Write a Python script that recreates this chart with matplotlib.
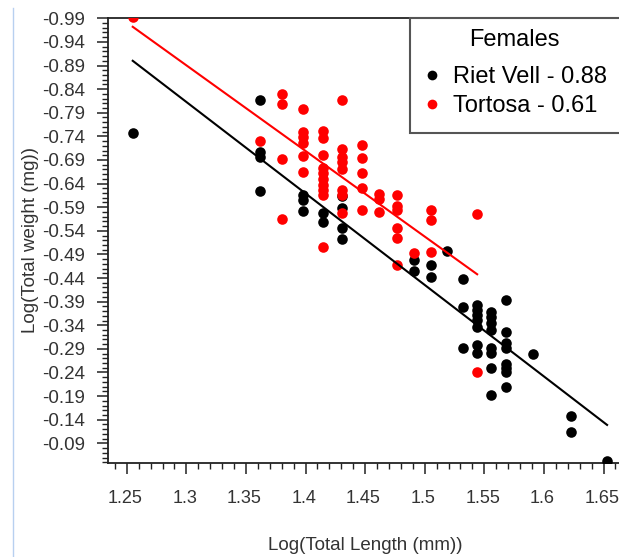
import matplotlib
matplotlib.use("Agg")
import matplotlib.pyplot as plt
import matplotlib.transforms as mtransforms
from matplotlib.ticker import MultipleLocator, FixedLocator, FixedFormatter
from matplotlib.lines import Line2D
from matplotlib.patches import Rectangle

plt.rcParams['font.family'] = ['Liberation Sans', 'DejaVu Sans']

# ---- data (log total length, log total weight) ----
riet_x = [1.255,
          1.362, 1.362, 1.362, 1.362,
          1.398, 1.398, 1.398,
          1.415, 1.415,
          1.431, 1.431, 1.431, 1.431,
          1.491, 1.491,
          1.505, 1.505,
          1.519,
          1.532, 1.532, 1.532,
          1.544, 1.544, 1.544, 1.544, 1.544, 1.544, 1.544,
          1.556, 1.556, 1.556, 1.556, 1.556, 1.556, 1.556, 1.556,
          1.568, 1.568, 1.568, 1.568, 1.568, 1.568, 1.568, 1.568,
          1.591,
          1.623, 1.623,
          1.653]
riet_y = [-0.748,
          -0.818, -0.707, -0.697, -0.625,
          -0.615, -0.605, -0.583,
          -0.577, -0.559,
          -0.614, -0.588, -0.545, -0.523,
          -0.478, -0.455,
          -0.468, -0.443,
          -0.497,
          -0.437, -0.378, -0.291,
          -0.383, -0.372, -0.362, -0.351, -0.337, -0.298, -0.281,
          -0.369, -0.357, -0.344, -0.331, -0.291, -0.282, -0.249, -0.192,
          -0.393, -0.326, -0.302, -0.291, -0.259, -0.249, -0.240, -0.210,
          -0.279,
          -0.148, -0.115,
          -0.052]

tortosa_x = [1.255,
             1.362,
             1.380, 1.380, 1.380, 1.380,
             1.398, 1.398, 1.398, 1.398, 1.398, 1.398,
             1.415, 1.415, 1.415, 1.415, 1.415, 1.415, 1.415, 1.415, 1.415, 1.415,
             1.431, 1.431, 1.431, 1.431, 1.431, 1.431, 1.431, 1.431,
             1.447, 1.447, 1.447, 1.447, 1.447,
             1.462, 1.462, 1.462,
             1.477, 1.477, 1.477, 1.477, 1.477, 1.477,
             1.491,
             1.505, 1.505, 1.505,
             1.544, 1.544]
tortosa_y = [-0.993,
             -0.731,
             -0.830, -0.808, -0.691, -0.566,
             -0.797, -0.749, -0.739, -0.725, -0.699, -0.664,
             -0.751, -0.737, -0.700, -0.674, -0.662, -0.650, -0.637, -0.626, -0.616, -0.506,
             -0.817, -0.713, -0.697, -0.686, -0.671, -0.626, -0.616, -0.577,
             -0.722, -0.695, -0.662, -0.630, -0.585,
             -0.617, -0.607, -0.579,
             -0.615, -0.593, -0.585, -0.545, -0.524, -0.468,
             -0.494,
             -0.585, -0.563, -0.496,
             -0.575, -0.240]

# regression line end points
riet_fit_x = [1.255, 1.653]
riet_fit_y = [-0.900, -0.129]
tortosa_fit_x = [1.255, 1.544]
tortosa_fit_y = [-0.972, -0.448]

series_labels = ['Riet Vell - 0.88', 'Tortosa - 0.61']
legend_title = 'Females'

y_ticks = [-0.99, -0.94, -0.89, -0.84, -0.79, -0.74, -0.69, -0.64, -0.59,
           -0.54, -0.49, -0.44, -0.39, -0.34, -0.29, -0.24, -0.19, -0.14, -0.09]
y_ticklabels = ['-0.99', '-0.94', '-0.89', '-0.84', '-0.79', '-0.74', '-0.69', '-0.64',
                '-0.59', '-0.54', '-0.49', '-0.44', '-0.39', '-0.34', '-0.29', '-0.24',
                '-0.19', '-0.14', '-0.09']
x_ticks = [1.25, 1.3, 1.35, 1.4, 1.45, 1.5, 1.55, 1.6, 1.65]
x_ticklabels = ['1.25', '1.3', '1.35', '1.4', '1.45', '1.5', '1.55', '1.6', '1.65']

# ---- figure ----
W, H = 619, 557
fig = plt.figure(figsize=(W / 100, H / 100), dpi=100)
fig.patch.set_facecolor('white')

ax_l, ax_r, ax_t, ax_b = 107.7, 619.0, 18.0, 462.7
ax = fig.add_axes([ax_l / W, 1 - ax_b / H, (ax_r - ax_l) / W, (ax_b - ax_t) / H])

ax.scatter(riet_x, riet_y, s=58, color='black', linewidths=0, zorder=3)
ax.scatter(tortosa_x, tortosa_y, s=58, color='#ff0000', linewidths=0, zorder=3)
ax.plot(riet_fit_x, riet_fit_y, color='black', lw=1.5, zorder=4)
ax.plot(tortosa_fit_x, tortosa_fit_y, color='#ff0000', lw=1.5, zorder=4)

ax.set_xlim(1.234, 1.663)
ax.set_ylim(-0.049, -0.9906)

ax.xaxis.set_major_locator(FixedLocator(x_ticks))
ax.xaxis.set_major_formatter(FixedFormatter(x_ticklabels))
ax.xaxis.set_minor_locator(MultipleLocator(0.01))
ax.yaxis.set_major_locator(FixedLocator(y_ticks))
ax.yaxis.set_major_formatter(FixedFormatter(y_ticklabels))
ax.yaxis.set_minor_locator(MultipleLocator(0.01))

ax.spines['right'].set_visible(False)
for sp in ['left', 'bottom', 'top']:
    ax.spines[sp].set_color('#222222')
    ax.spines[sp].set_linewidth(1.3)

ax.tick_params(axis='both', which='major', direction='out', length=8, width=1.1,
               color='#222222', labelsize=13.5, labelcolor='#333333')
ax.tick_params(axis='both', which='minor', direction='out', length=4, width=1.0,
               color='#222222')
ax.tick_params(axis='x', which='major', pad=12, labelsize=13)
ax.tick_params(axis='y', which='major', pad=8)

# nudge x tick labels very slightly left so the last one stays inside
shift = mtransforms.ScaledTranslation(-1.2 / 72, 0, fig.dpi_scale_trans)
for lab in ax.get_xticklabels():
    lab.set_transform(lab.get_transform() + shift)

ax.set_xlabel('Log(Total Length (mm))', fontsize=13.5, color='#333333')
ax.set_ylabel('Log(Total weight (mg))', fontsize=13.5, color='#333333')
ax.xaxis.set_label_coords((365 - ax_l) / (ax_r - ax_l), (ax_b - 537) / (ax_b - ax_t))
ax.yaxis.set_label_coords((39 - ax_l) / (ax_r - ax_l), 0.5)

# legend box
box = Rectangle((410 / W, 1 - 133.3 / H), (650 - 410) / W, (133.3 - 18) / H,
                transform=fig.transFigure, facecolor='white',
                edgecolor='#555555', lw=1.5, zorder=5, clip_on=False)
ax.add_patch(box)
handles = [Line2D([], [], ls='none', marker='o', ms=7, color='black', mew=0),
           Line2D([], [], ls='none', marker='o', ms=7, color='#ff0000', mew=0)]
leg = ax.legend(handles, series_labels, title=legend_title, frameon=False,
                loc='upper left', bbox_to_anchor=(421 / W, 1 - 29 / H),
                bbox_transform=fig.transFigure, fontsize=17, title_fontsize=17,
                handlelength=0.95, handletextpad=0.42, labelspacing=0.3,
                borderpad=0, borderaxespad=0)
leg.set_zorder(6)
leg._legend_box.sep = 11

# faint page border line
fig.add_artist(Line2D([12.7 / W, 12.7 / W], [0, 1 - 8 / H], transform=fig.transFigure,
                      color='#b8d0f0', lw=1.0))

fig.savefig('out.png', dpi=100)
